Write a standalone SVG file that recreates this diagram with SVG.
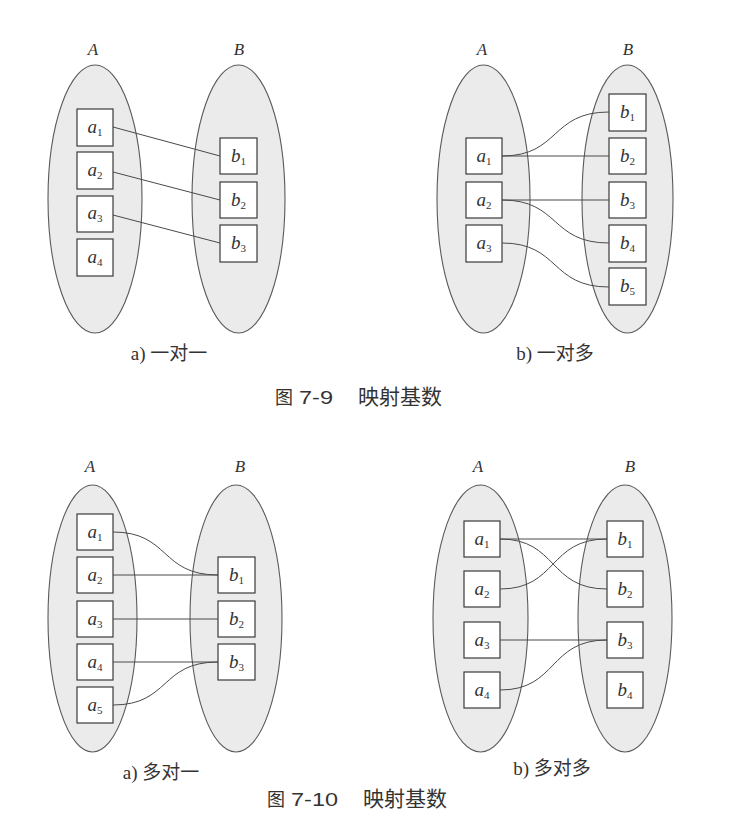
<svg xmlns="http://www.w3.org/2000/svg" width="748" height="816" viewBox="0 0 748 816">
<style>
.set{fill:#ebebeb;stroke:#5a5a5a;stroke-width:1.1}
.box{fill:#ffffff;stroke:#3a3a3a;stroke-width:1.2}
.lbl{font-family:"Liberation Serif",serif;font-style:italic;font-size:19px;fill:#333;text-anchor:middle}
.sub{font-style:normal;font-size:11px}
.setname{font-family:"Liberation Serif",serif;font-style:italic;font-size:17px;fill:#333;text-anchor:middle}
.cap{font-family:"Liberation Serif","Noto Sans CJK SC",serif;font-size:19px;fill:#333;text-anchor:middle}
.fig{font-family:"Liberation Sans","Noto Sans CJK SC",sans-serif;font-size:18px;fill:#333}
.figt{font-family:"Noto Sans CJK SC",sans-serif;font-size:21px;fill:#333}
.conn{fill:none;stroke:#4a4a4a;stroke-width:1}
</style>
<rect width="748" height="816" fill="#ffffff"/>

<!-- Panel a) 一对一 -->
<text class="setname" x="93" y="55">A</text>
<text class="setname" x="239" y="55">B</text>
<g id="setA1"><ellipse class="set" cx="95" cy="199" rx="47" ry="134"/></g>
<g id="setB1"><ellipse class="set" cx="238.5" cy="199" rx="46.5" ry="134"/></g>
<g id="p1_a1"><rect class="box" x="77" y="109" width="36" height="37"/><text class="lbl" x="95" y="133">a<tspan class="sub" dy="3">1</tspan></text></g>
<g id="p1_a2"><rect class="box" x="77" y="152" width="36" height="37"/><text class="lbl" x="95" y="176">a<tspan class="sub" dy="3">2</tspan></text></g>
<g id="p1_a3"><rect class="box" x="77" y="196" width="36" height="36"/><text class="lbl" x="95" y="219">a<tspan class="sub" dy="3">3</tspan></text></g>
<g id="p1_a4"><rect class="box" x="77" y="239" width="36" height="37"/><text class="lbl" x="95" y="263">a<tspan class="sub" dy="3">4</tspan></text></g>
<g id="p1_b1"><rect class="box" x="220" y="138" width="37" height="36"/><text class="lbl" x="238.5" y="162">b<tspan class="sub" dy="3">1</tspan></text></g>
<g id="p1_b2"><rect class="box" x="220" y="182" width="37" height="36"/><text class="lbl" x="238.5" y="206">b<tspan class="sub" dy="3">2</tspan></text></g>
<g id="p1_b3"><rect class="box" x="220" y="225" width="37" height="37"/><text class="lbl" x="238.5" y="249">b<tspan class="sub" dy="3">3</tspan></text></g>
<text class="cap" x="169" y="360">a) 一对一</text>

<!-- Panel b) 一对多 -->
<text class="setname" x="482" y="55">A</text>
<text class="setname" x="628" y="55">B</text>
<g id="setA2"><ellipse class="set" cx="483.5" cy="199" rx="46.5" ry="134"/></g>
<g id="setB2"><ellipse class="set" cx="627.5" cy="199" rx="45.5" ry="134"/></g>
<g id="p2_a1"><rect class="box" x="466" y="138" width="36" height="36"/><text class="lbl" x="484" y="162">a<tspan class="sub" dy="3">1</tspan></text></g>
<g id="p2_a2"><rect class="box" x="466" y="182" width="36" height="36"/><text class="lbl" x="484" y="206">a<tspan class="sub" dy="3">2</tspan></text></g>
<g id="p2_a3"><rect class="box" x="466" y="225" width="36" height="37"/><text class="lbl" x="484" y="249">a<tspan class="sub" dy="3">3</tspan></text></g>
<g id="p2_b1"><rect class="box" x="609" y="94" width="37" height="37"/><text class="lbl" x="627.5" y="118">b<tspan class="sub" dy="3">1</tspan></text></g>
<g id="p2_b2"><rect class="box" x="609" y="138" width="37" height="36"/><text class="lbl" x="627.5" y="162">b<tspan class="sub" dy="3">2</tspan></text></g>
<g id="p2_b3"><rect class="box" x="609" y="182" width="37" height="36"/><text class="lbl" x="627.5" y="206">b<tspan class="sub" dy="3">3</tspan></text></g>
<g id="p2_b4"><rect class="box" x="609" y="225" width="37" height="37"/><text class="lbl" x="627.5" y="249">b<tspan class="sub" dy="3">4</tspan></text></g>
<g id="p2_b5"><rect class="box" x="609" y="268" width="37" height="37"/><text class="lbl" x="627.5" y="292">b<tspan class="sub" dy="3">5</tspan></text></g>
<text class="cap" x="555" y="360">b) 一对多</text>

<text class="fig" x="275" y="404">图</text>
<text class="fig" x="299" y="404" font-size="19" textLength="34" lengthAdjust="spacingAndGlyphs">7-9</text>
<text class="figt" x="358" y="404">映射基数</text>

<!-- Panel a) 多对一 -->
<text class="setname" x="90" y="472">A</text>
<text class="setname" x="240" y="472">B</text>
<g id="setA3"><ellipse class="set" cx="92.5" cy="618.5" rx="44.5" ry="133.5"/></g>
<g id="setB3"><ellipse class="set" cx="236" cy="618.5" rx="46" ry="133.5"/></g>
<g id="p3_a1"><rect class="box" x="77" y="514" width="36" height="36"/><text class="lbl" x="95" y="538">a<tspan class="sub" dy="3">1</tspan></text></g>
<g id="p3_a2"><rect class="box" x="77" y="557" width="36" height="36"/><text class="lbl" x="95" y="581">a<tspan class="sub" dy="3">2</tspan></text></g>
<g id="p3_a3"><rect class="box" x="77" y="601" width="36" height="36"/><text class="lbl" x="95" y="625">a<tspan class="sub" dy="3">3</tspan></text></g>
<g id="p3_a4"><rect class="box" x="77" y="644" width="36" height="36"/><text class="lbl" x="95" y="668">a<tspan class="sub" dy="3">4</tspan></text></g>
<g id="p3_a5"><rect class="box" x="77" y="687" width="36" height="36"/><text class="lbl" x="95" y="711">a<tspan class="sub" dy="3">5</tspan></text></g>
<g id="p3_b1"><rect class="box" x="218" y="557" width="37" height="36"/><text class="lbl" x="236.5" y="581">b<tspan class="sub" dy="3">1</tspan></text></g>
<g id="p3_b2"><rect class="box" x="218" y="601" width="37" height="36"/><text class="lbl" x="236.5" y="625">b<tspan class="sub" dy="3">2</tspan></text></g>
<g id="p3_b3"><rect class="box" x="218" y="644" width="37" height="36"/><text class="lbl" x="236.5" y="668">b<tspan class="sub" dy="3">3</tspan></text></g>
<text class="cap" x="161" y="779">a) 多对一</text>

<!-- Panel b) 多对多 -->
<text class="setname" x="478" y="472">A</text>
<text class="setname" x="630" y="472">B</text>
<g id="setA4"><ellipse class="set" cx="480.5" cy="618.5" rx="47.5" ry="133.5"/></g>
<g id="setB4"><ellipse class="set" cx="625" cy="618.5" rx="47" ry="133.5"/></g>
<g id="p4_a1"><rect class="box" x="464" y="521" width="36" height="36"/><text class="lbl" x="482" y="545">a<tspan class="sub" dy="3">1</tspan></text></g>
<g id="p4_a2"><rect class="box" x="464" y="571" width="36" height="36"/><text class="lbl" x="482" y="595">a<tspan class="sub" dy="3">2</tspan></text></g>
<g id="p4_a3"><rect class="box" x="464" y="622" width="36" height="36"/><text class="lbl" x="482" y="646">a<tspan class="sub" dy="3">3</tspan></text></g>
<g id="p4_a4"><rect class="box" x="464" y="672" width="36" height="36"/><text class="lbl" x="482" y="696">a<tspan class="sub" dy="3">4</tspan></text></g>
<g id="p4_b1"><rect class="box" x="607" y="521" width="36" height="36"/><text class="lbl" x="625" y="545">b<tspan class="sub" dy="3">1</tspan></text></g>
<g id="p4_b2"><rect class="box" x="607" y="571" width="36" height="36"/><text class="lbl" x="625" y="595">b<tspan class="sub" dy="3">2</tspan></text></g>
<g id="p4_b3"><rect class="box" x="607" y="622" width="36" height="36"/><text class="lbl" x="625" y="646">b<tspan class="sub" dy="3">3</tspan></text></g>
<g id="p4_b4"><rect class="box" x="607" y="672" width="36" height="36"/><text class="lbl" x="625" y="696">b<tspan class="sub" dy="3">4</tspan></text></g>
<text class="cap" x="552" y="775">b) 多对多</text>

<text class="fig" x="267" y="806">图</text>
<text class="fig" x="291" y="806" font-size="19" textLength="47" lengthAdjust="spacingAndGlyphs">7-10</text>
<text class="figt" x="363" y="806">映射基数</text>

<g id="connectors">
<!-- panel 1 -->
<path class="conn" d="M113,127 L220,156"/>
<path class="conn" d="M113,172 L220,200"/>
<path class="conn" d="M113,215 L220,243"/>
<!-- panel 2 -->
<path class="conn" d="M502,156 C560,156 550,112 609,112"/>
<path class="conn" d="M502,156 L609,156"/>
<path class="conn" d="M502,200 L609,200"/>
<path class="conn" d="M502,200 C560,200 550,243 609,243"/>
<path class="conn" d="M502,243 C560,243 550,287 609,287"/>
<!-- panel 3 -->
<path class="conn" d="M113,532 C170,532 160,575 218,575"/>
<path class="conn" d="M113,575 L218,575"/>
<path class="conn" d="M113,619 L218,619"/>
<path class="conn" d="M113,662 L218,662"/>
<path class="conn" d="M113,705 C170,705 160,662 218,662"/>
<!-- panel 4 -->
<path class="conn" d="M500,539 L607,539"/>
<path class="conn" d="M500,539 C558,539 548,589 607,589"/>
<path class="conn" d="M500,589 C558,589 548,539 607,539"/>
<path class="conn" d="M500,640 L607,640"/>
<path class="conn" d="M500,690 C558,690 548,640 607,640"/>
</g>
</svg>
